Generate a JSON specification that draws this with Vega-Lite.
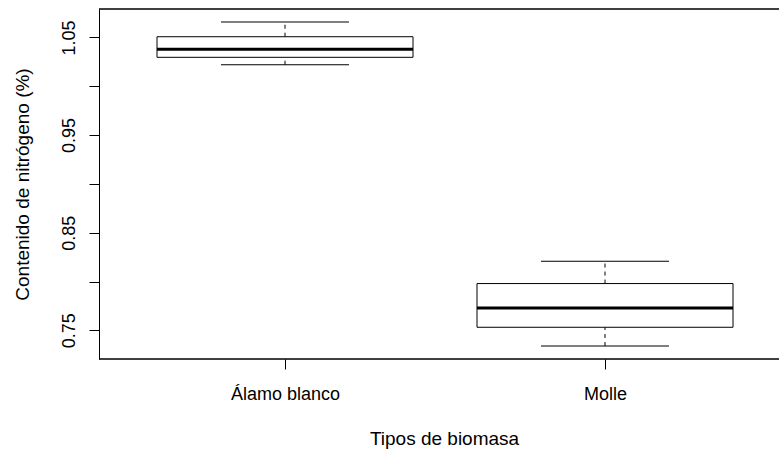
{
  "$schema": "https://vega.github.io/schema/vega-lite/v6.json",
  "autosize": "none",
  "width": 680,
  "height": 350,
  "padding": {"left": 99, "top": 9, "right": 0, "bottom": 91},
  "background": "white",
  "config": {
    "view": {"stroke": null},
    "font": "Liberation Sans",
    "axis": {"grid": false, "labelFont": "Liberation Sans", "titleFont": "Liberation Sans", "labelFontSize": 18, "titleFontSize": 19, "labelColor": "#000", "titleColor": "#000", "titleFontWeight": "normal", "domainColor": "#000", "tickColor": "#000", "tickSize": 10, "labelFlush": false, "labelOverlap": false}
  },
  "data": {"values": [
    {"tipo": "Álamo blanco", "lower": 1.0221, "q1": 1.0297, "median": 1.0379, "q3": 1.0508, "upper": 1.0659},
    {"tipo": "Molle", "lower": 0.7339, "q1": 0.7531, "median": 0.7729, "q3": 0.7979, "upper": 0.8208}
  ]},
  "layer": [
    {"mark": {"type": "rule", "strokeDash": [4, 4], "color": "#000", "strokeWidth": 1},
     "encoding": {
      "x": {"field": "tipo", "type": "nominal", "sort": null,
        "scale": {"type": "point", "range": [186, 506], "padding": 0},
        "axis": {"title": "Tipos de biomasa", "labelAngle": 0, "labelBaseline": "alphabetic", "labelPadding": 30, "domain": false, "titleX": 345, "titleY": 85, "titleAlign": "center", "titleBaseline": "alphabetic"}},
      "y": {"field": "q3", "type": "quantitative",
        "scale": {"domain": [0.7206, 1.0792], "nice": false, "zero": false},
        "axis": {"title": "Contenido de nitrógeno (%)", "values": [0.75, 0.8, 0.85, 0.9, 0.95, 1.0, 1.05],
          "labelExpr": "round(datum.value*100) % 10 == 5 ? format(datum.value, '.2f') : ''",
          "labelAngle": 270, "labelAlign": "center", "labelBaseline": "alphabetic", "labelPadding": 15,
          "titleX": -71, "titleBaseline": "alphabetic", "titleAngle": 270}},
      "y2": {"field": "upper"}}},
    {"mark": {"type": "rule", "strokeDash": [4, 4], "color": "#000", "strokeWidth": 1},
     "encoding": {"x": {"field": "tipo", "type": "nominal", "sort": null}, "y": {"field": "lower", "type": "quantitative"}, "y2": {"field": "q1"}}},
    {"mark": {"type": "tick", "orient": "horizontal", "size": 128, "thickness": 1, "color": "#000", "opacity": 1},
     "encoding": {"x": {"field": "tipo", "type": "nominal", "sort": null}, "y": {"field": "upper", "type": "quantitative"}}},
    {"mark": {"type": "tick", "orient": "horizontal", "size": 128, "thickness": 1, "color": "#000", "opacity": 1},
     "encoding": {"x": {"field": "tipo", "type": "nominal", "sort": null}, "y": {"field": "lower", "type": "quantitative"}}},
    {"mark": {"type": "bar", "size": 256, "fill": "white", "stroke": "#000", "strokeWidth": 1},
     "encoding": {"x": {"field": "tipo", "type": "nominal", "sort": null}, "y": {"field": "q1", "type": "quantitative"}, "y2": {"field": "q3"}}},
    {"mark": {"type": "tick", "orient": "horizontal", "size": 256, "thickness": 3, "color": "#000", "opacity": 1},
     "encoding": {"x": {"field": "tipo", "type": "nominal", "sort": null}, "y": {"field": "median", "type": "quantitative"}}},
    {"mark": {"type": "rule", "color": "#000", "strokeWidth": 1},
     "encoding": {"y": {"datum": 1.0792, "type": "quantitative"}}},
    {"mark": {"type": "rule", "color": "#000", "strokeWidth": 1},
     "encoding": {"y": {"datum": 0.7206, "type": "quantitative"}}}
  ]
}
